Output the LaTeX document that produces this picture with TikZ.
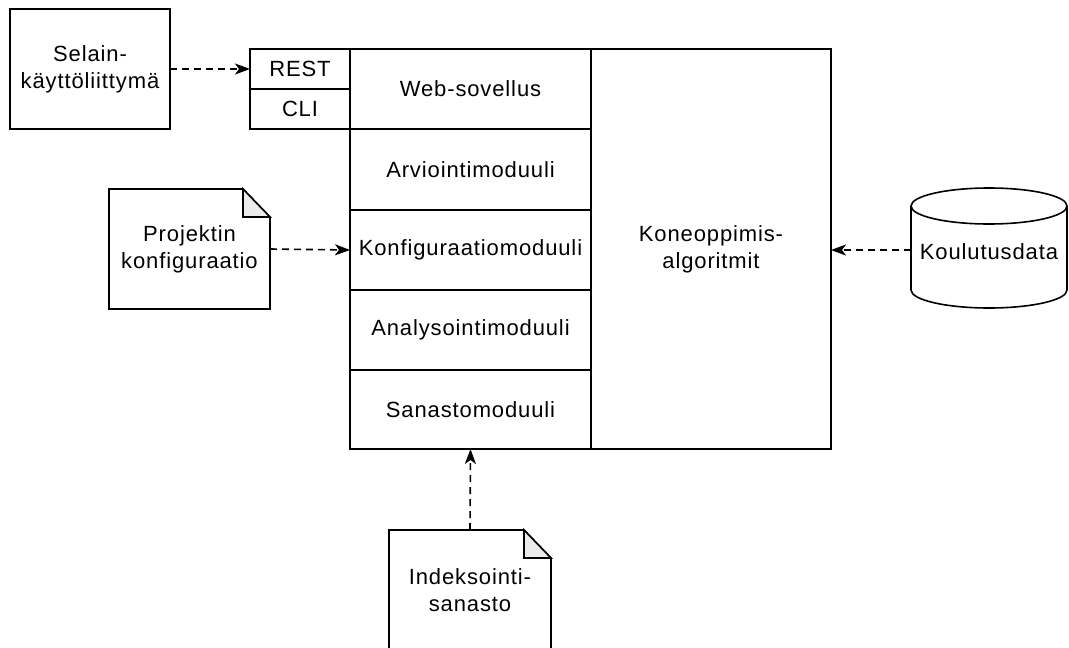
\documentclass[tikz,border=0pt]{standalone}
\usepackage{fontspec}
\setmainfont[LetterSpace=4]{Liberation Sans}
\usetikzlibrary{arrows.meta}
\tikzset{
  blk/.style={draw, line width=1.6pt, inner sep=0pt, outer sep=0pt, align=center, font=\fontsize{22}{27}\selectfont},
  lbl/.style={inner sep=0pt, outer sep=0pt, align=center, font=\fontsize{22}{27}\selectfont},
  conn/.style={line width=1.6pt, dash pattern=on 7pt off 5pt, -{Stealth[length=15pt,width=11pt,inset=4pt]}},
  fold/.style={line width=1.6pt, fill=black!8, line join=miter}
}
\begin{document}
\begin{tikzpicture}[x=1pt,y=-1pt]
\clip (0,0) rectangle (1069,648);
\fill[white] (0,0) rectangle (1069,648);

% browser UI
\node[blk, minimum width=160pt, minimum height=120pt] (sel) at (90,69) {Selain-\\käyttöliittymä};

% REST / CLI
\node[blk, minimum width=100pt, minimum height=40pt] (rest) at (300,69) {REST};
\node[blk, minimum width=100pt, minimum height=40pt] (cli) at (300,109) {CLI};

% module column
\node[blk, minimum width=241pt, minimum height=80pt] (web) at (470.5,89) {Web-sovellus};
\node[blk, minimum width=241pt, minimum height=81pt] (arv) at (470.5,169.5) {Arviointimoduuli};
\node[blk, minimum width=241pt, minimum height=80pt] (konf) at (470.5,250) {Konfiguraatiomoduuli};
\node[blk, minimum width=241pt, minimum height=80pt] (ana) at (470.5,330) {Analysointimoduuli};
\node[blk, minimum width=241pt, minimum height=79pt] (san) at (470.5,409.5) {Sanastomoduuli};

% ML algorithms
\node[blk, minimum width=240pt, minimum height=400pt] (kone) at (711,249) {Koneoppimis-\\algoritmit};

% project configuration note
\node[lbl, minimum width=161pt, minimum height=120pt] (proj) at (189.5,249) {Projektin\\konfiguraatio};
\draw[line width=1.6pt, line join=miter] (proj.north west) -- ([xshift=-27pt]proj.north east) -- ([yshift=-28pt]proj.north east) -- (proj.south east) -- (proj.south west) -- cycle;
\draw[fold] ([xshift=-27pt]proj.north east) -- ([yshift=-28pt]proj.north east) -- ([xshift=-27pt,yshift=-28pt]proj.north east) -- cycle;

% index vocabulary note
\node[lbl, minimum width=162pt, minimum height=120pt] (idx) at (470,590) {Indeksointi-\\sanasto};
\draw[line width=1.6pt, line join=miter] (idx.north west) -- ([xshift=-27pt]idx.north east) -- ([yshift=-28pt]idx.north east) -- (idx.south east) -- (idx.south west) -- cycle;
\draw[fold] ([xshift=-27pt]idx.north east) -- ([yshift=-28pt]idx.north east) -- ([xshift=-27pt,yshift=-28pt]idx.north east) -- cycle;

% training data cylinder
\node[lbl, minimum width=156pt, minimum height=120pt] (kou) at (989,252) {Koulutusdata};
\draw[line width=1.6pt] (911,206) -- (911,290) arc[start angle=180, end angle=0, x radius=78, y radius=18] -- (1067,206);
\draw[line width=1.6pt, fill=white] (989,206) ellipse[x radius=78, y radius=18];
\coordinate (kouw) at (911,250);

% connectors
\draw[conn] (sel.east) -- (rest.west);
\draw[conn] (proj.east) -- (konf.west);
\draw[conn] (kouw) -- (kone.east |- kouw);
\draw[conn] (idx.north) -- (san.south);
\end{tikzpicture}
\end{document}
